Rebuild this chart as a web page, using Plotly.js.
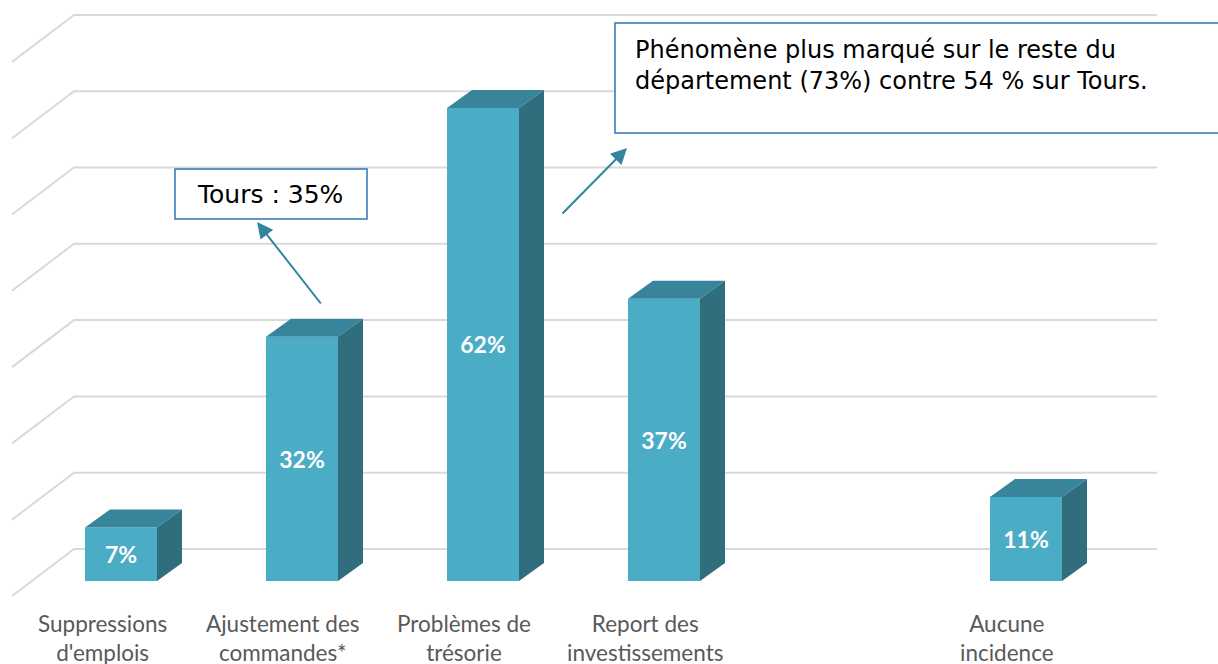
<!DOCTYPE html>
<html>
<head>
<meta charset="utf-8">
<script src="https://cdn.plot.ly/plotly-3.0.1.min.js"></script>
<style>html,body{margin:0;padding:0;background:#fff;}#chart{width:1218px;height:664px;}</style>
</head>
<body>
<div id="chart"></div>
<script>
// ---- Data ----
const categories = ["Suppressions<br>d'emplois", "Ajustement des<br>commandes*", "Problèmes de<br>trésorie", "Report des<br>investissements", "", "Aucune<br>incidence"];
const values = [7, 32, 62, 37, null, 11];
const valueLabels = ["7%", "32%", "62%", "37%", "", "11%"];
const gridTicks = [0, 10, 20, 30, 40, 50, 60, 70];
const noteTours = "Tours : 35%";
const noteDept = "Phénomène plus marqué sur le reste du<br>département (73%) contre 54 % sur Tours.";

// ---- Geometry / style (layout constants) ----
const W = 1218, H = 664;
const PX_X = 181;            // pixels per category slot
const X_START = -0.6685;     // x value at left edge
const PX_Y = 7.63;           // pixels per percent
const ZERO_PX = 581;         // pixel row of the front zero
const xr = [X_START, X_START + W / PX_X];
const yr = [-(H - ZERO_PX) / PX_Y, ZERO_PX / PX_Y];
const px2x = p => p / PX_X + X_START;
const py2y = p => (ZERO_PX - p) / PX_Y;

const BAR_W = 72 / PX_X;
const DX = 25 / PX_X, DY = 18 / PX_Y;
const WALL_DY = 32 / PX_Y;
const FLOOR_DY = -15 / PX_Y;
const WALL_X0 = px2x(74), WALL_X1 = px2x(1157), FLOOR_X0 = px2x(12);

const C_FRONT = '#4BACC6', C_TOP = '#38849A', C_SIDE = '#316E7D';
const C_GRID = '#D9D9D9', C_ARROW = '#31859C', C_BOX = '#2E75B6';

const idx = categories.map((_, i) => i);

const traces = [];
// front faces
traces.push({
  type: 'bar', x: idx, y: values, width: BAR_W,
  marker: {color: C_FRONT, line: {width: 0}},
  text: valueLabels, textposition: 'inside', insidetextanchor: 'middle',
  textangle: 0, constraintext: 'none',
  textfont: {family: 'Lato', size: 23, color: '#FFFFFF', weight: 'bold'},
  hoverinfo: 'skip'
});
// top and side faces
values.forEach((v, i) => {
  if (v == null) return;
  const l = i - BAR_W / 2, r = i + BAR_W / 2;
  traces.push({
    type: 'scatter', mode: 'lines', fill: 'toself', fillcolor: C_TOP,
    line: {width: 0, color: C_TOP}, hoverinfo: 'skip',
    x: [l, l + DX, r + DX, r, l], y: [v, v + DY, v + DY, v, v]
  });
  traces.push({
    type: 'scatter', mode: 'lines', fill: 'toself', fillcolor: C_SIDE,
    line: {width: 0, color: C_SIDE}, hoverinfo: 'skip',
    x: [r, r, r + DX, r + DX, r], y: [0, v, v + DY, DY, 0]
  });
});

// gridlines (back wall + left side wall) as shapes below traces
const shapes = gridTicks.map(t => ({
  type: 'path', layer: 'below', xref: 'x', yref: 'y',
  path: `M ${FLOOR_X0},${t + FLOOR_DY} L ${WALL_X0},${t + WALL_DY} L ${WALL_X1},${t + WALL_DY}`,
  line: {color: C_GRID, width: 2}
}));
// callout boxes
shapes.push({type: 'rect', layer: 'above', xref: 'paper', yref: 'paper',
  x0: 175 / W, x1: 367 / W, y0: 1 - 219 / H, y1: 1 - 169 / H,
  line: {color: C_BOX, width: 1.5}, fillcolor: '#FFFFFF'});
shapes.push({type: 'rect', layer: 'above', xref: 'paper', yref: 'paper',
  x0: 615 / W, x1: 1.02, y0: 1 - 133 / H, y1: 1 - 23 / H,
  line: {color: C_BOX, width: 1.5}, fillcolor: '#FFFFFF'});

const annotations = [];
// category labels
categories.forEach((c, i) => {
  if (!c) return;
  annotations.push({
    x: i, y: py2y(638), xref: 'x', yref: 'y', xshift: -19,
    text: c, showarrow: false, xanchor: 'center', yanchor: 'middle',
    font: {family: 'Lato', size: 22.5, color: '#595959'}
  });
});
// arrows
annotations.push({x: px2x(257), y: py2y(222), xref: 'x', yref: 'y', ax: 65, ay: 83,
  text: '', showarrow: true, arrowhead: 2, arrowsize: 1.6, arrowwidth: 2, arrowcolor: C_ARROW, standoff: 0});
annotations.push({x: px2x(627), y: py2y(148), xref: 'x', yref: 'y', ax: -66, ay: 67,
  text: '', showarrow: true, arrowhead: 2, arrowsize: 1.6, arrowwidth: 2, arrowcolor: C_ARROW, standoff: 0});
// notes
annotations.push({x: 270 / W, y: 1 - 194 / H, xref: 'paper', yref: 'paper',
  text: noteTours, showarrow: false, xanchor: 'center', yanchor: 'middle',
  font: {family: 'DejaVu Sans', size: 25, color: '#000000'}});
annotations.push({x: 633 / W, y: 1 - 65 / H, xref: 'paper', yref: 'paper',
  text: noteDept, showarrow: false, xanchor: 'left', yanchor: 'middle', align: 'left',
  font: {family: 'DejaVu Sans', size: 24, color: '#000000'}});

const layout = {
  width: W, height: H,
  margin: {l: 0, r: 0, t: 0, b: 0},
  paper_bgcolor: '#FFFFFF', plot_bgcolor: '#FFFFFF',
  showlegend: false,
  xaxis: {range: xr, visible: false, fixedrange: true},
  yaxis: {range: yr, visible: false, fixedrange: true},
  shapes: shapes, annotations: annotations
};

Plotly.newPlot('chart', traces, layout, {staticPlot: true, displayModeBar: false});
</script>
</body>
</html>
